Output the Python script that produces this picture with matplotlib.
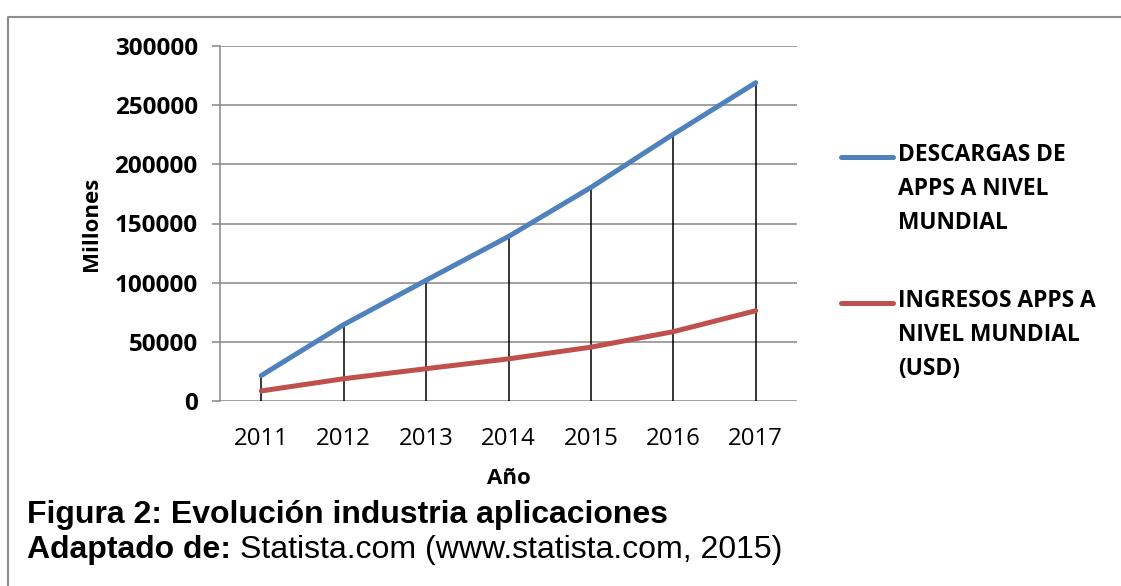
import matplotlib
matplotlib.use('Agg')
import matplotlib.pyplot as plt
from matplotlib.lines import Line2D

years = ['2011', '2012', '2013', '2014', '2015', '2016', '2017']
descargas = [21500, 64500, 102000, 139000, 180500, 225500, 269000]
ingresos = [8500, 18800, 27300, 35600, 45500, 58600, 76300]
series_names = ['DESCARGAS DE\nAPPS A NIVEL\nMUNDIAL', 'INGRESOS APPS A\nNIVEL MUNDIAL\n(USD)']
y_ticks = [0, 50000, 100000, 150000, 200000, 250000, 300000]

blue = '#4F81BD'
red = '#C0504D'
grid_gray = '#868686'
chart_font = 'Open Sans'

W, H = 1121, 586
fig = plt.figure(figsize=(W / 100, H / 100), dpi=100)
ax = fig.add_axes([220 / W, 1 - 401 / H, 577 / W, 355 / H])

x = list(range(len(years)))

# drop lines from the axis to the top series
ax.vlines(x, 0, descargas, colors='black', linewidth=1.1, zorder=2)
l1, = ax.plot(x, descargas, color=blue, linewidth=3.6, solid_capstyle='round', zorder=3)
l2, = ax.plot(x, ingresos, color=red, linewidth=3.6, solid_capstyle='round', zorder=3)

ax.set_xlim(-0.5, len(years) - 0.5)
ax.set_ylim(0, 300000)
ax.set_yticks(y_ticks)
ax.set_yticklabels([str(v) for v in y_ticks], fontfamily=chart_font, fontweight='bold', fontsize=17.5)
ax.set_xticks(x)
ax.set_xticklabels(years, fontfamily=chart_font, fontsize=17.3)

ax.yaxis.grid(True, color=grid_gray, linewidth=1.1)
ax.set_axisbelow(True)
for s in ['top', 'right', 'bottom']:
    ax.spines[s].set_visible(False)
ax.spines['left'].set_color(grid_gray)
ax.spines['left'].set_linewidth(1.1)
ax.tick_params(axis='y', direction='out', length=6, width=1.1, color=grid_gray, pad=10)
ax.tick_params(axis='x', length=0, pad=19)

ax.set_ylabel('Millones', fontfamily=chart_font, fontweight='bold', fontsize=16, va='center')
ax.yaxis.set_label_coords(-0.222, 0.5)
ax.set_xlabel('Año', fontfamily=chart_font, fontweight='bold', fontsize=16, va='center')
ax.xaxis.set_label_coords(0.5, -0.218)

# legend, key line level with the first text line
for line, name, ypx in [(l1, series_names[0], 157), (l2, series_names[1], 303)]:
    fig.add_artist(Line2D([841 / W, 893 / W], [1 - ypx / H] * 2, color=line.get_color(),
                          linewidth=3.6, solid_capstyle='round'))
    fig.text(898 / W, 1 - (ypx - 14) / H, name, fontfamily=chart_font, fontweight='bold',
             fontsize=16.4, va='top', ha='left', linespacing=1.55)

# frame around the figure
fig.add_artist(Line2D([8 / W, 8 / W, 1], [0, 1 - 17 / H, 1 - 17 / H], color='#8c8c8c', linewidth=1.5))

# caption
cap_font = 'Liberation Sans'
fig.text(27 / W, 1 - 523 / H, 'Figura 2: Evolución industria aplicaciones', fontfamily=cap_font,
         fontweight='bold', fontsize=23, va='baseline', ha='left')
t = fig.text(27 / W, 1 - 558 / H, 'Adaptado de:', fontfamily=cap_font, fontweight='bold',
             fontsize=23, va='baseline', ha='left')
r = fig.canvas.get_renderer()
bb = t.get_window_extent(r)
fig.text((bb.x1 + 9) / W, 1 - 558 / H, 'Statista.com (www.statista.com, 2015)', fontfamily=cap_font,
         fontsize=23, va='baseline', ha='left')

fig.savefig('out.png', dpi=100)
